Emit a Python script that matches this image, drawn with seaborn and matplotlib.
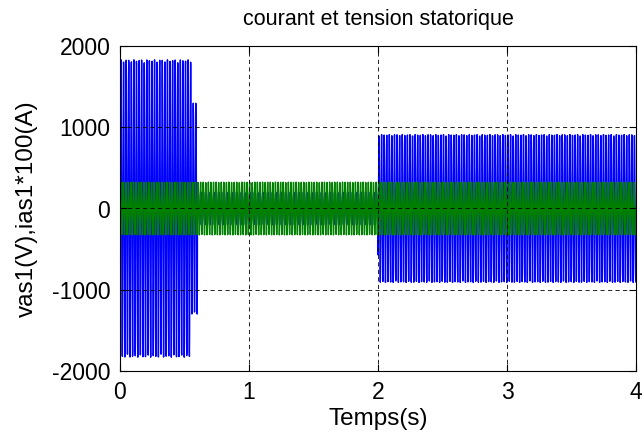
import numpy as np
import pandas as pd
import matplotlib
matplotlib.use("Agg")
import matplotlib.pyplot as plt
import seaborn as sns

# --- data ---
# stator phase current (x100) : peak value per operating phase
seg_start = [0.00, 0.55, 0.60, 2.00]      # s
seg_end   = [0.55, 0.60, 2.00, 4.00]      # s
ias_peak  = [1830, 1300, 200, 910]        # A*100
vas_peak  = 325                           # V (supply phase voltage peak)
f_supply  = 50                            # Hz
t_end     = 4.0
dt        = 1.3e-3                        # solver output step

xticks = [0, 1, 2, 3, 4]
yticks = [-2000, -1000, 0, 1000, 2000]

t = np.arange(0, t_end + dt, dt)
amp = np.zeros_like(t)
for a, b, p in zip(seg_start, seg_end, ias_peak):
    amp[(t >= a) & (t <= b)] = p
ias = amp * np.sin(2 * np.pi * f_supply * t - 0.9)
vas = vas_peak * np.sin(2 * np.pi * f_supply * t)

df = pd.DataFrame({"t": t, "ias": ias, "vas": vas})

sns.set_style("white")
plt.rcParams["font.family"] = ["Liberation Sans", "DejaVu Sans"]
plt.rcParams["text.color"] = "black"
plt.rcParams["axes.labelcolor"] = "black"

fig = plt.figure(figsize=(6.44, 4.40), dpi=100)
ax = fig.add_axes([120/644, 1 - 371/440, (636-120)/644, (371-46)/440])

sns.lineplot(data=df, x="t", y="ias", ax=ax, color=(0, 0, 1), lw=1.0,
             estimator=None, sort=False)
sns.lineplot(data=df, x="t", y="vas", ax=ax, color=(0, 0.5, 0), lw=1.0,
             estimator=None, sort=False)

ax.set_xlim(0, 4)
ax.set_ylim(-2000, 2000)
ax.set_xticks(xticks)
ax.set_yticks(yticks)
ax.set_xticklabels([str(v) for v in xticks], fontsize=16.5)
ax.set_yticklabels([str(v) for v in yticks], fontsize=16.5)
ax.grid(True, color="black", linestyle=(0, (5, 4)), linewidth=0.6)
ax.set_axisbelow(False)
ax.tick_params(direction="in", length=5, width=0.8, top=True, right=True,
               bottom=True, left=True, pad=7, colors="black")
for s in ax.spines.values():
    s.set_color("black")
    s.set_linewidth(0.8)

ax.set_xlabel("Temps(s)", fontsize=17.5, labelpad=3, color="black")
ax.set_ylabel("vas1(V),ias1*100(A)", fontsize=17.5, labelpad=10, color="black")
ax.set_title("courant et tension statorique", fontsize=15.5, pad=15,
             color="black")

fig.savefig("out.png", dpi=100)
